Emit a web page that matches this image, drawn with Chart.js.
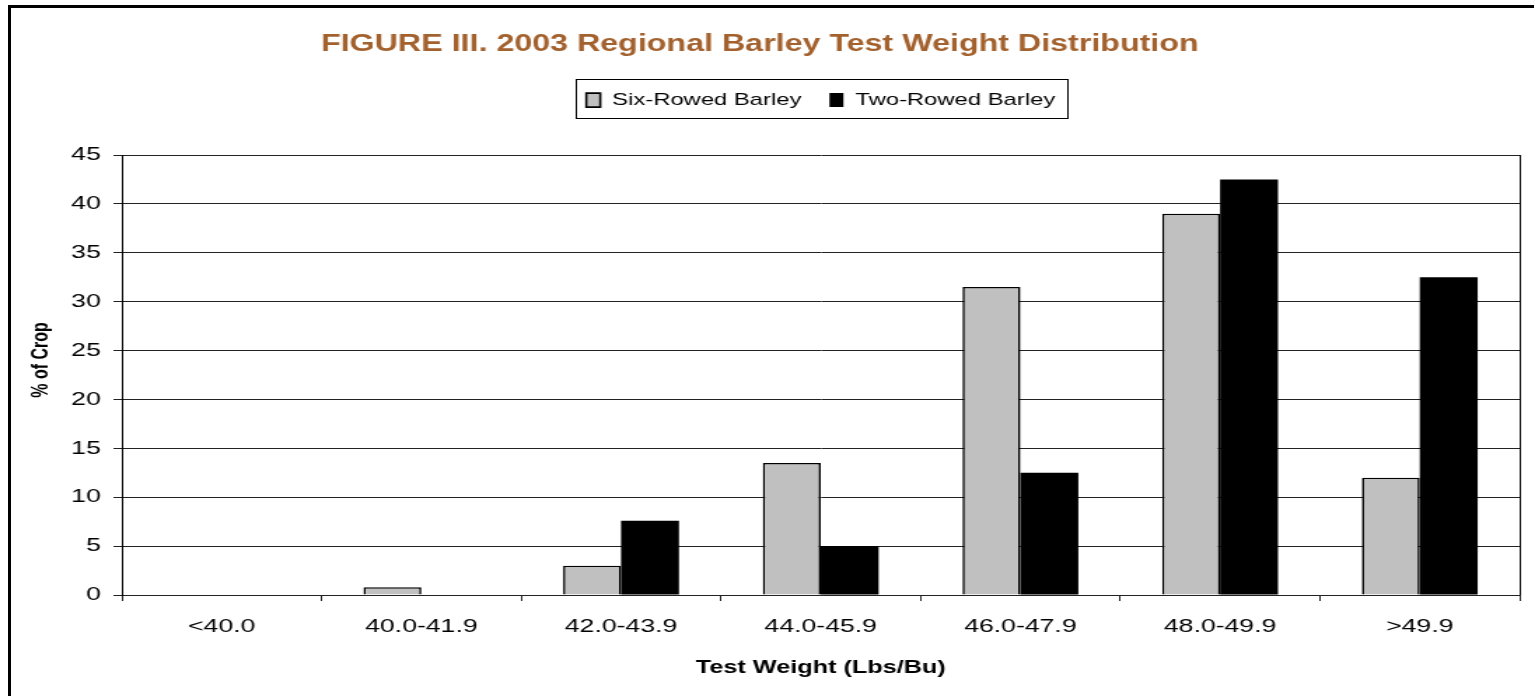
<!DOCTYPE html>
<html>
<head>
<meta charset="utf-8">
<script src="https://cdn.jsdelivr.net/npm/chart.js@4.4.0/dist/chart.umd.min.js"></script>
<style>
  html, body { margin: 0; padding: 0; background: #fff; overflow: hidden; }
  #wrap { position: relative; width: 1535px; height: 696px; }
  #c { display: block; width: 1535px; height: 696px; }
  #frame { position: absolute; left: 8px; top: 5px; width: 1523px; height: 700px;
           border-top: 3px solid #000; border-left: 3px solid #000; pointer-events: none; }
</style>
</head>
<body>
<div id="wrap">
  <canvas id="c" width="1096" height="696" style="width:1535px;height:696px"></canvas>
  <div id="frame"></div>
</div>
<script>
const categories = ['<40.0', '40.0-41.9', '42.0-43.9', '44.0-45.9', '46.0-47.9', '48.0-49.9', '>49.9'];
const sixRowed = [0, 0.8, 3.0, 13.5, 31.5, 39.0, 12.0];
const twoRowed = [0, 0, 7.6, 5.0, 12.5, 42.5, 32.5];
const seriesNames = ['Six-Rowed Barley', 'Two-Rowed Barley'];
const yTicks = [0, 5, 10, 15, 20, 25, 30, 35, 40, 45];
const yTitle = '% of Crop';

const FONT = "'Liberation Sans', Arial, Helvetica, sans-serif";

const legendSpace = {
  id: 'legendSpace',
  beforeInit(chart) {
    const orig = chart.legend.fit;
    chart.legend.fit = function () {
      orig.call(this);
      this.height = 83.4;
    };
  },
  afterUpdate(chart) {
    const lg = chart.legend;
    const a = chart.chartArea;
    lg.fit();
    lg.left = a.left;
    lg.right = a.right;
    lg.width = a.right - a.left;
    lg.adjustHitBoxes();
  }
};

const frames = {
  id: 'frames',
  afterDraw(chart) {
    const ctx = chart.ctx;
    const a = chart.chartArea;
    ctx.save();
    ctx.strokeStyle = '#000';
    ctx.lineWidth = 1;
    ctx.beginPath();
    ctx.moveTo(Math.round(a.right) + 0.5, a.top);
    ctx.lineTo(Math.round(a.right) + 0.5, a.bottom);
    ctx.stroke();
    const hb = chart.legend.legendHitBoxes;
    if (hb && hb.length) {
      let l = Infinity, r = -Infinity, t = Infinity, b = -Infinity;
      hb.forEach(h => {
        l = Math.min(l, h.left); r = Math.max(r, h.left + h.width);
        t = Math.min(t, h.top); b = Math.max(b, h.top + h.height);
      });
      ctx.strokeRect(Math.round(l - 8) + 0.5, Math.round(t - 12.5) + 0.5,
                     Math.round(r - l + 16), Math.round(b - t + 22));
    }
    // y-axis title
    ctx.translate(29.6, 360);
    ctx.rotate(-Math.PI / 2);
    ctx.fillStyle = '#000';
    ctx.font = "bold 16px " + FONT;
    ctx.textAlign = 'center';
    ctx.textBaseline = 'middle';
    ctx.fillText(yTitle, 0, 0);
    ctx.restore();
  }
};

new Chart(document.getElementById('c'), {
  type: 'bar',
  data: {
    labels: categories,
    datasets: [
      { label: seriesNames[0], data: sixRowed, backgroundColor: '#C0C0C0',
        borderColor: '#000', borderWidth: 1.6 },
      { label: seriesNames[1], data: twoRowed, backgroundColor: '#000000',
        borderColor: '#000', borderWidth: 0 }
    ]
  },
  options: {
    responsive: false,
    devicePixelRatio: 1,
    animation: false,
    layout: { padding: { left: 0, right: 11, top: 0, bottom: 0 } },
    datasets: { bar: { categoryPercentage: 0.58, barPercentage: 1.0 } },
    plugins: {
      title: {
        display: true,
        text: 'FIGURE III. 2003 Regional Barley Test Weight Distribution',
        color: '#A3612E',
        font: { family: FONT, size: 23, weight: 'bold' },
        padding: { top: 31, bottom: 13 }
      },
      legend: {
        display: true,
        position: 'top',
        labels: {
          color: '#000',
          font: { family: FONT, size: 17 },
          boxWidth: 10,
          boxHeight: 14,
          padding: 20
        }
      },
      tooltip: { enabled: false }
    },
    scales: {
      x: {
        afterFit(scale) { scale.height = 101; },
        grid: { display: true, drawOnChartArea: false, drawTicks: true, tickLength: 6,
                color: '#222', offset: true },
        border: { display: true, color: '#222', width: 1 },
        ticks: { color: '#000', font: { family: FONT, size: 19 }, padding: 14,
                 maxRotation: 0, autoSkip: false },
        title: { display: true, text: 'Test Weight (Lbs/Bu)', color: '#000',
                 font: { family: FONT, size: 18, weight: 'bold' },
                 padding: { top: 0, bottom: 17 } }
      },
      y: {
        min: 0, max: 45,
        afterFit(scale) { scale.width = 87; },
        afterBuildTicks(scale) { scale.ticks = yTicks.map(v => ({ value: v })); },
        grid: { color: '#222', lineWidth: 1, drawTicks: true, tickLength: 6 },
        border: { display: true, color: '#000', width: 1 },
        ticks: { color: '#000', font: { family: FONT, size: 19 }, padding: 9 },
        title: { display: false }
      }
    }
  },
  plugins: [legendSpace, frames]
});
</script>
</body>
</html>
